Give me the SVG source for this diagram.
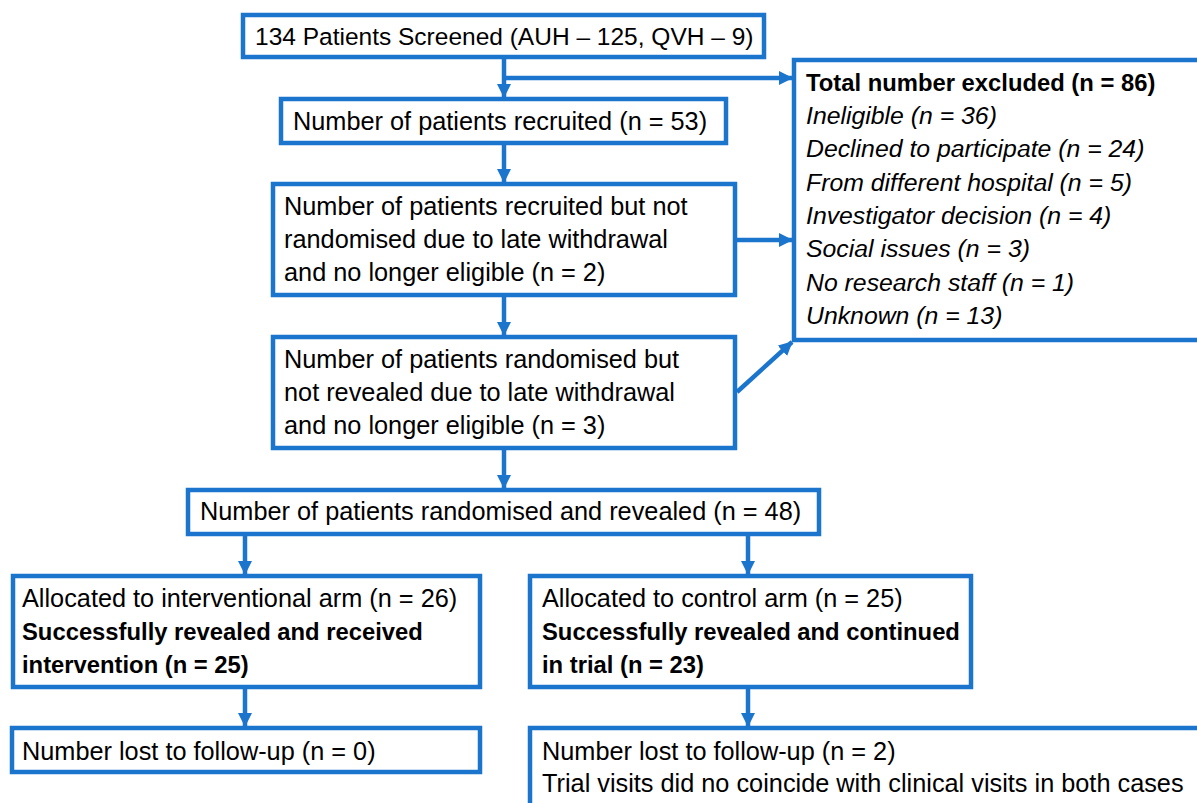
<svg xmlns="http://www.w3.org/2000/svg" width="1197" height="803" viewBox="0 0 1197 803">
<defs>
<style>
.box{fill:#fff;stroke:#1C75CC;stroke-width:4.5}
.con{fill:none;stroke:#1C75CC;stroke-width:4.5}
text{font-family:"Liberation Sans",Arial,sans-serif;font-size:25.3px;fill:#000}
.t1{font-size:24.5px}
.b{font-weight:bold;font-size:23.8px}
.i{font-style:italic;font-size:24.8px}
</style>
<marker id="ah" markerUnits="userSpaceOnUse" markerWidth="14" markerHeight="14" viewBox="0 0 14 14" refX="13" refY="7" orient="auto">
<path d="M0,0 L14,7 L0,14 z" fill="#1C75CC"/>
</marker>
</defs>
<rect width="1197" height="803" fill="#fff"/>
<g id="connectors">
<line class="con" x1="504" y1="57" x2="504" y2="97" marker-end="url(#ah)"/>
<line class="con" x1="502" y1="78" x2="792" y2="78" marker-end="url(#ah)"/>
<line class="con" x1="504" y1="143" x2="504" y2="182" marker-end="url(#ah)"/>
<line class="con" x1="735" y1="240" x2="792" y2="240" marker-end="url(#ah)"/>
<line class="con" x1="504" y1="295" x2="504" y2="335" marker-end="url(#ah)"/>
<line class="con" x1="737" y1="392" x2="792" y2="342" marker-end="url(#ah)"/>
<line class="con" x1="504" y1="448" x2="504" y2="488" marker-end="url(#ah)"/>
<line class="con" x1="245" y1="534" x2="245" y2="574" marker-end="url(#ah)"/>
<line class="con" x1="748" y1="534" x2="748" y2="574" marker-end="url(#ah)"/>
<line class="con" x1="245" y1="687" x2="245" y2="726" marker-end="url(#ah)"/>
<line class="con" x1="748" y1="687" x2="748" y2="726" marker-end="url(#ah)"/>
</g>
<g id="screened">
<rect class="box" x="243" y="15" width="521" height="42"/>
<text class="t1" x="255" y="45">134 Patients Screened (AUH – 125, QVH – 9)</text>
</g>
<g id="recruited">
<rect class="box" x="281" y="99" width="445" height="44"/>
<text x="293" y="130">Number of patients recruited (n = 53)</text>
</g>
<g id="notRandomised">
<rect class="box" x="273" y="184" width="462" height="111"/>
<text x="284" y="215">Number of patients recruited but not</text>
<text x="284" y="248">randomised due to late withdrawal</text>
<text x="284" y="281">and no longer eligible (n = 2)</text>
</g>
<g id="notRevealed">
<rect class="box" x="273" y="337" width="462" height="111"/>
<text x="284" y="368">Number of patients randomised but</text>
<text x="284" y="401">not revealed due to late withdrawal</text>
<text x="284" y="434">and no longer eligible (n = 3)</text>
</g>
<g id="excluded">
<rect class="box" x="794" y="60" width="450" height="280"/>
<text class="b" x="806" y="91">Total number excluded (n = 86)</text>
<text class="i" x="806" y="124">Ineligible (n = 36)</text>
<text class="i" x="806" y="157">Declined to participate (n = 24)</text>
<text class="i" x="806" y="191">From different hospital (n = 5)</text>
<text class="i" x="806" y="224">Investigator decision (n = 4)</text>
<text class="i" x="806" y="257">Social issues (n = 3)</text>
<text class="i" x="806" y="291">No research staff (n = 1)</text>
<text class="i" x="806" y="324">Unknown (n = 13)</text>
</g>
<g id="randomisedRevealed">
<rect class="box" x="188" y="490" width="631" height="44"/>
<text x="200" y="520">Number of patients randomised and revealed (n = 48)</text>
</g>
<g id="interventional">
<rect class="box" x="13" y="576" width="467" height="111"/>
<text x="22" y="607">Allocated to interventional arm (n = 26)</text>
<text class="b" x="22" y="640">Successfully revealed and received</text>
<text class="b" x="22" y="673">intervention (n = 25)</text>
</g>
<g id="control">
<rect class="box" x="530" y="576" width="441" height="111"/>
<text x="542" y="607">Allocated to control arm (n = 25)</text>
<text class="b" x="542" y="640">Successfully revealed and continued</text>
<text class="b" x="542" y="673">in trial (n = 23)</text>
</g>
<g id="lostIntervention">
<rect class="box" x="12" y="728" width="468" height="44"/>
<text x="22" y="760">Number lost to follow-up (n = 0)</text>
</g>
<g id="lostControl">
<rect class="box" x="530" y="728" width="700" height="100"/>
<text x="542" y="760">Number lost to follow-up (n = 2)</text>
<text x="542" y="792">Trial visits did no coincide with clinical visits in both cases</text>
</g>
</svg>
